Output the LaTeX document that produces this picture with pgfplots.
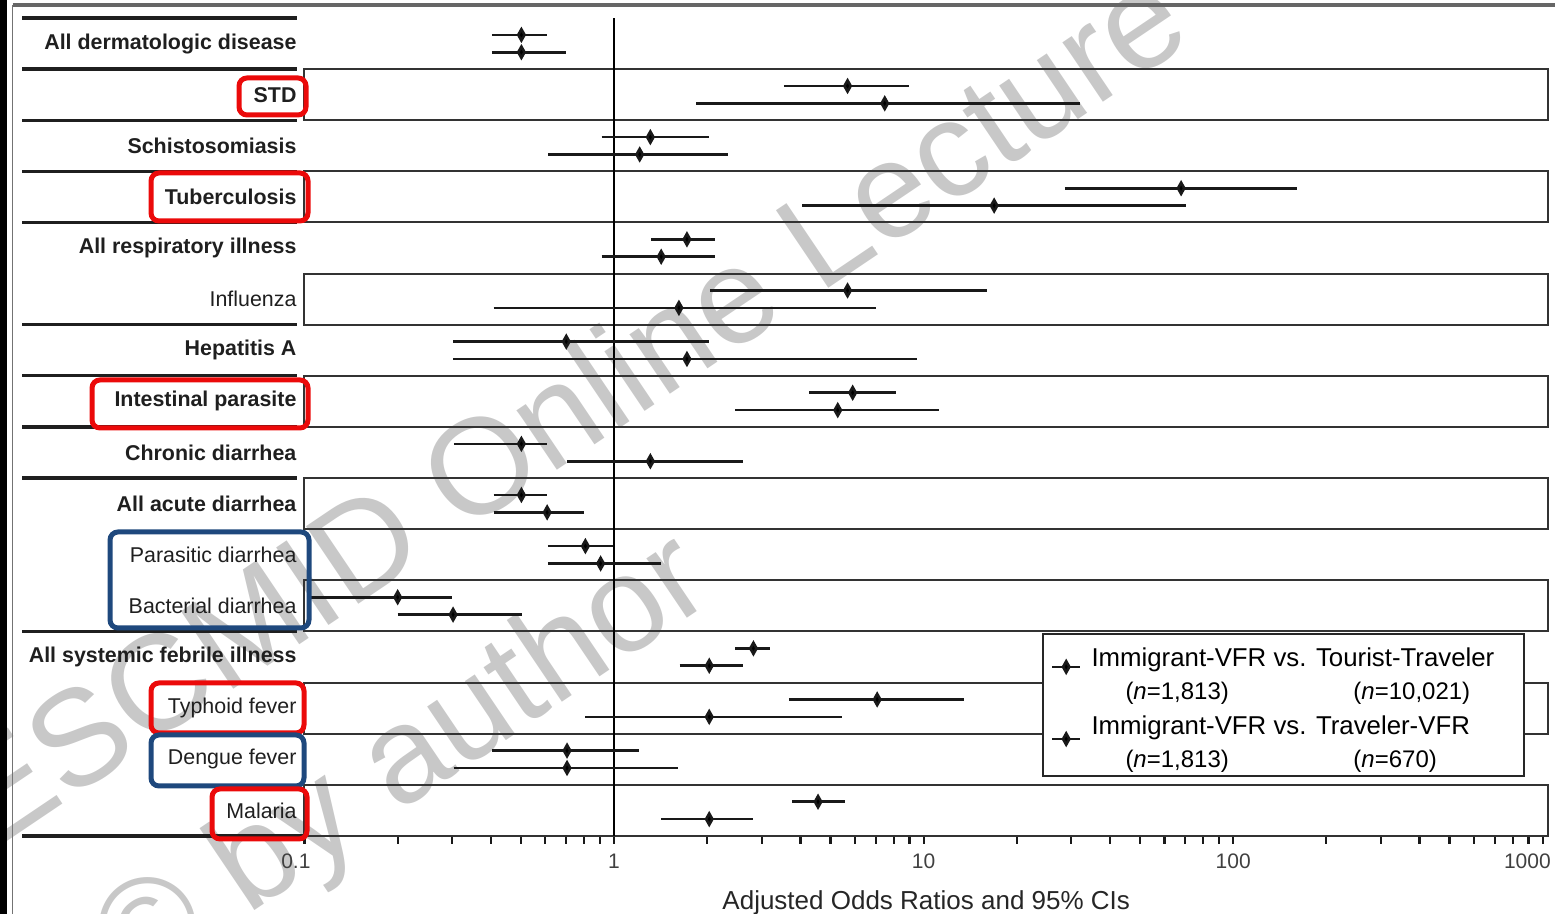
\documentclass[border=0pt]{standalone}
\usepackage{pgfplots}
\pgfplotsset{compat=1.18}
\usepackage{fontspec}
\setmainfont{Liberation Sans}
\definecolor{hlred}{RGB}{235,10,10}
\definecolor{hlblue}{RGB}{30,72,125}
\definecolor{wm}{RGB}{200,200,200}

\pgfplotsset{
  cistyle/.style={black!90, line width=1.3pt, mark=diamond*, mark indices={2},
    mark size=2.8pt, mark options={xscale=0.75, solid, fill=black}, forget plot},
}
% \ci{lower}{estimate}{upper}{y}
\newcommand{\ci}[4]{\addplot[cistyle] coordinates {(#1,#4) (#2,#4) (#3,#4)};}
\newcommand{\legA}{{\begin{tabular}{@{\hspace*{3pt}}l@{}}Immigrant-VFR vs. Tourist-Traveler\hspace*{9pt}\\[2.5pt]{\fontsize{12}{13}\selectfont\hspace*{17pt}\makebox[114pt][l]{(\textit{n}=1,813)}(\textit{n}=10,021)}\end{tabular}}}
\newcommand{\legB}{{\begin{tabular}{@{\hspace*{3pt}}l@{}}Immigrant-VFR vs. Traveler-VFR\\[2.5pt]{\fontsize{12}{13}\selectfont\hspace*{17pt}\makebox[114pt][l]{(\textit{n}=1,813)}(\textit{n}=670)\rule[-13.5pt]{0pt}{13.5pt}}\end{tabular}}}

\begin{document}
\begin{tikzpicture}
\path[use as bounding box] (0,0) rectangle (777.5pt,457pt);

% watermark (pixel coordinates, origin top-left)
\begin{scope}[x=0.5pt,y=-0.5pt,shift={(0pt,457pt)}]
  \node[rotate=34, anchor=base, text=wm, font=\fontsize{68}{68}\selectfont, inner sep=0pt] at (594,446) {ESCMID Online Lecture};
  \node[rotate=34, anchor=base, text=wm, font=\fontsize{68}{68}\selectfont, inner sep=0pt] at (425,795) {© by author};
\end{scope}

\begin{axis}[
  at={(152.25pt,39pt)}, anchor=south west,
  scale only axis, width=621.75pt, height=409pt,
  xmode=log, xmin=0.1, xmax=1040, ymin=0.5, ymax=16.5,
  clip=false,
  axis x line*=bottom, x axis line style={-, line width=1.3pt, black!90},
  axis y line*=left, y axis line style={draw=none},
  ytick={1,...,16}, major y tick style={draw=none},
  yticklabels={Malaria, Dengue fever, Typhoid fever, \textbf{All systemic febrile illness},
    Bacterial diarrhea, Parasitic diarrhea, \textbf{All acute diarrhea}, \textbf{Chronic diarrhea},
    \textbf{Intestinal parasite}, \textbf{Hepatitis A}, Influenza, \textbf{All respiratory illness},
    \textbf{Tuberculosis}, \textbf{Schistosomiasis}, \textbf{STD}, \textbf{All dermatologic disease}},
  yticklabel style={font=\fontsize{10.7}{12}\selectfont, text=black!88, anchor=east, xshift=3.5pt},
  xtick={0.1,1,10,100,1000}, xticklabels={\makebox[0pt][r]{0.1\hspace*{-3pt}},1,10,100,\makebox[0pt][r]{1000\hspace*{-4pt}}},
  minor xtick={0.2,0.3,0.4,0.5,0.6,0.7,0.8,0.9,2,3,4,5,6,7,8,9,20,30,40,50,60,70,80,90,200,300,400,500,600,700,800,900},
  tick align=outside, major tick length=4pt, minor tick length=4pt,
  x tick style={line width=1.1pt, black!90},
  xticklabel style={font=\fontsize{10.5}{12}\selectfont, text=black!75, yshift=-1.5pt},
  /pgf/number format/assume math mode=true,
  xlabel={Adjusted Odds Ratios and 95\% CIs},
  xlabel style={font=\fontsize{13}{15}\selectfont, text=black!85, yshift=-4pt},
  legend style={at={(axis description cs:0.593,0.248)}, anchor=north west,
    draw=black!85, line width=1pt, fill=white, inner xsep=4pt, inner ysep=4.5pt,
    cells={anchor=west}, row sep=10pt,
    font=\fontsize{12.9}{14}\selectfont},
  legend image code/.code={\draw[mark repeat=2,mark phase=2,#1] plot coordinates {(0pt,0pt) (7pt,0pt) (14pt,0pt)};},
]
% alternating boxes
\pgfplotsinvokeforeach{1,3,5,7,9,11,13,15}{
  \draw[black!80, line width=1pt] (axis cs:0.1,#1-0.5) rectangle (axis cs:1040,#1+0.5);
}
% reference line at OR = 1
\draw[black, line width=1.1pt] (axis cs:1,0.5) -- (axis cs:1,16.5);

% Immigrant-VFR vs. Tourist-Traveler (upper), vs. Traveler-VFR (lower)
% All dermatologic disease
\ci{0.403}{0.502}{0.608}{16.17}
\ci{0.403}{0.502}{0.700}{15.83}
% STD
\ci{3.54}{5.68}{8.98}{15.17}
\ci{1.84}{7.49}{31.9}{14.83}
% Schistosomiasis
\ci{0.911}{1.31}{2.02}{14.17}
\ci{0.612}{1.21}{2.33}{13.83}
% Tuberculosis
\ci{28.6}{67.9}{161}{13.17}
\ci{4.05}{16.9}{70.5}{12.83}
% All respiratory illness
\ci{1.32}{1.72}{2.12}{12.17}
\ci{0.911}{1.42}{2.12}{11.83}
% Influenza
\ci{2.04}{5.68}{16.0}{11.17}
\ci{0.408}{1.62}{7.00}{10.83}
% Hepatitis A
\ci{0.302}{0.701}{2.02}{10.17}
\ci{0.302}{1.72}{9.51}{9.83}
% Intestinal parasite
\ci{4.27}{5.90}{8.17}{9.17}
\ci{2.46}{5.28}{11.2}{8.83}
% Chronic diarrhea
\ci{0.304}{0.502}{0.608}{8.17}
\ci{0.707}{1.31}{2.61}{7.83}
% All acute diarrhea
\ci{0.408}{0.502}{0.608}{7.17}
\ci{0.408}{0.608}{0.798}{6.83}
% Parasitic diarrhea
\ci{0.611}{0.808}{0.99}{6.17}
\ci{0.611}{0.905}{1.42}{5.83}
% Bacterial diarrhea
\ci{0.104}{0.200}{0.300}{5.17}
\ci{0.200}{0.302}{0.504}{4.83}
% All systemic febrile illness
\ci{2.46}{2.82}{3.20}{4.17}
\ci{1.63}{2.03}{2.61}{3.83}
% Typhoid fever
\ci{3.67}{7.08}{13.5}{3.17}
\ci{0.808}{2.03}{5.45}{2.83}
% Dengue fever
\ci{0.404}{0.705}{1.20}{2.17}
\ci{0.303}{0.705}{1.61}{1.83}
% Malaria
\ci{3.77}{4.56}{5.57}{1.17}
\ci{1.42}{2.03}{2.82}{0.83}

\addlegendimage{black!90, line width=1.3pt, mark=diamond*, mark size=2.8pt, mark options={xscale=0.75, solid, fill=black}}
\addlegendentry{\legA}
\addlegendimage{black!90, line width=1.3pt, mark=diamond*, mark size=2.8pt, mark options={xscale=0.75, solid, fill=black}}
\addlegendentry{\legB}
\end{axis}

% decorations in pixel coordinates
\begin{scope}[x=0.5pt,y=-0.5pt,shift={(0pt,457pt)}]
  % slide frame
  \fill[black] (0,0) rectangle (7,914);
  \draw[black!55, line width=0.7pt] (12.5,5) -- (12.5,914);
  \draw[black!60, line width=1.6pt] (12.5,5) -- (1555,5);
  % left separators
  \foreach \yy in {18,69.1,120.25,171.4,222.5,324.75,375.9,427,478.1,631.5}{
    \draw[black!88, line width=1.6pt] (22,\yy) -- (297,\yy);
  }
  \draw[black!88, line width=1.6pt] (22,836) -- (304.5,836);
  % highlight boxes
  \begin{scope}[line width=2.5pt, rounded corners=4pt]
    \draw[hlred] (239,78) rectangle (306,115);
    \draw[hlred] (151,173) rectangle (308,221);
    \draw[hlred] (92,380) rectangle (308,428);
    \draw[hlblue] (110,532) rectangle (309,628);
    \draw[hlred] (151,683) rectangle (304,733);
    \draw[hlblue] (151,735) rectangle (304,786);
    \draw[hlred] (212,789) rectangle (307,839);
  \end{scope}
\end{scope}
\end{tikzpicture}
\end{document}
